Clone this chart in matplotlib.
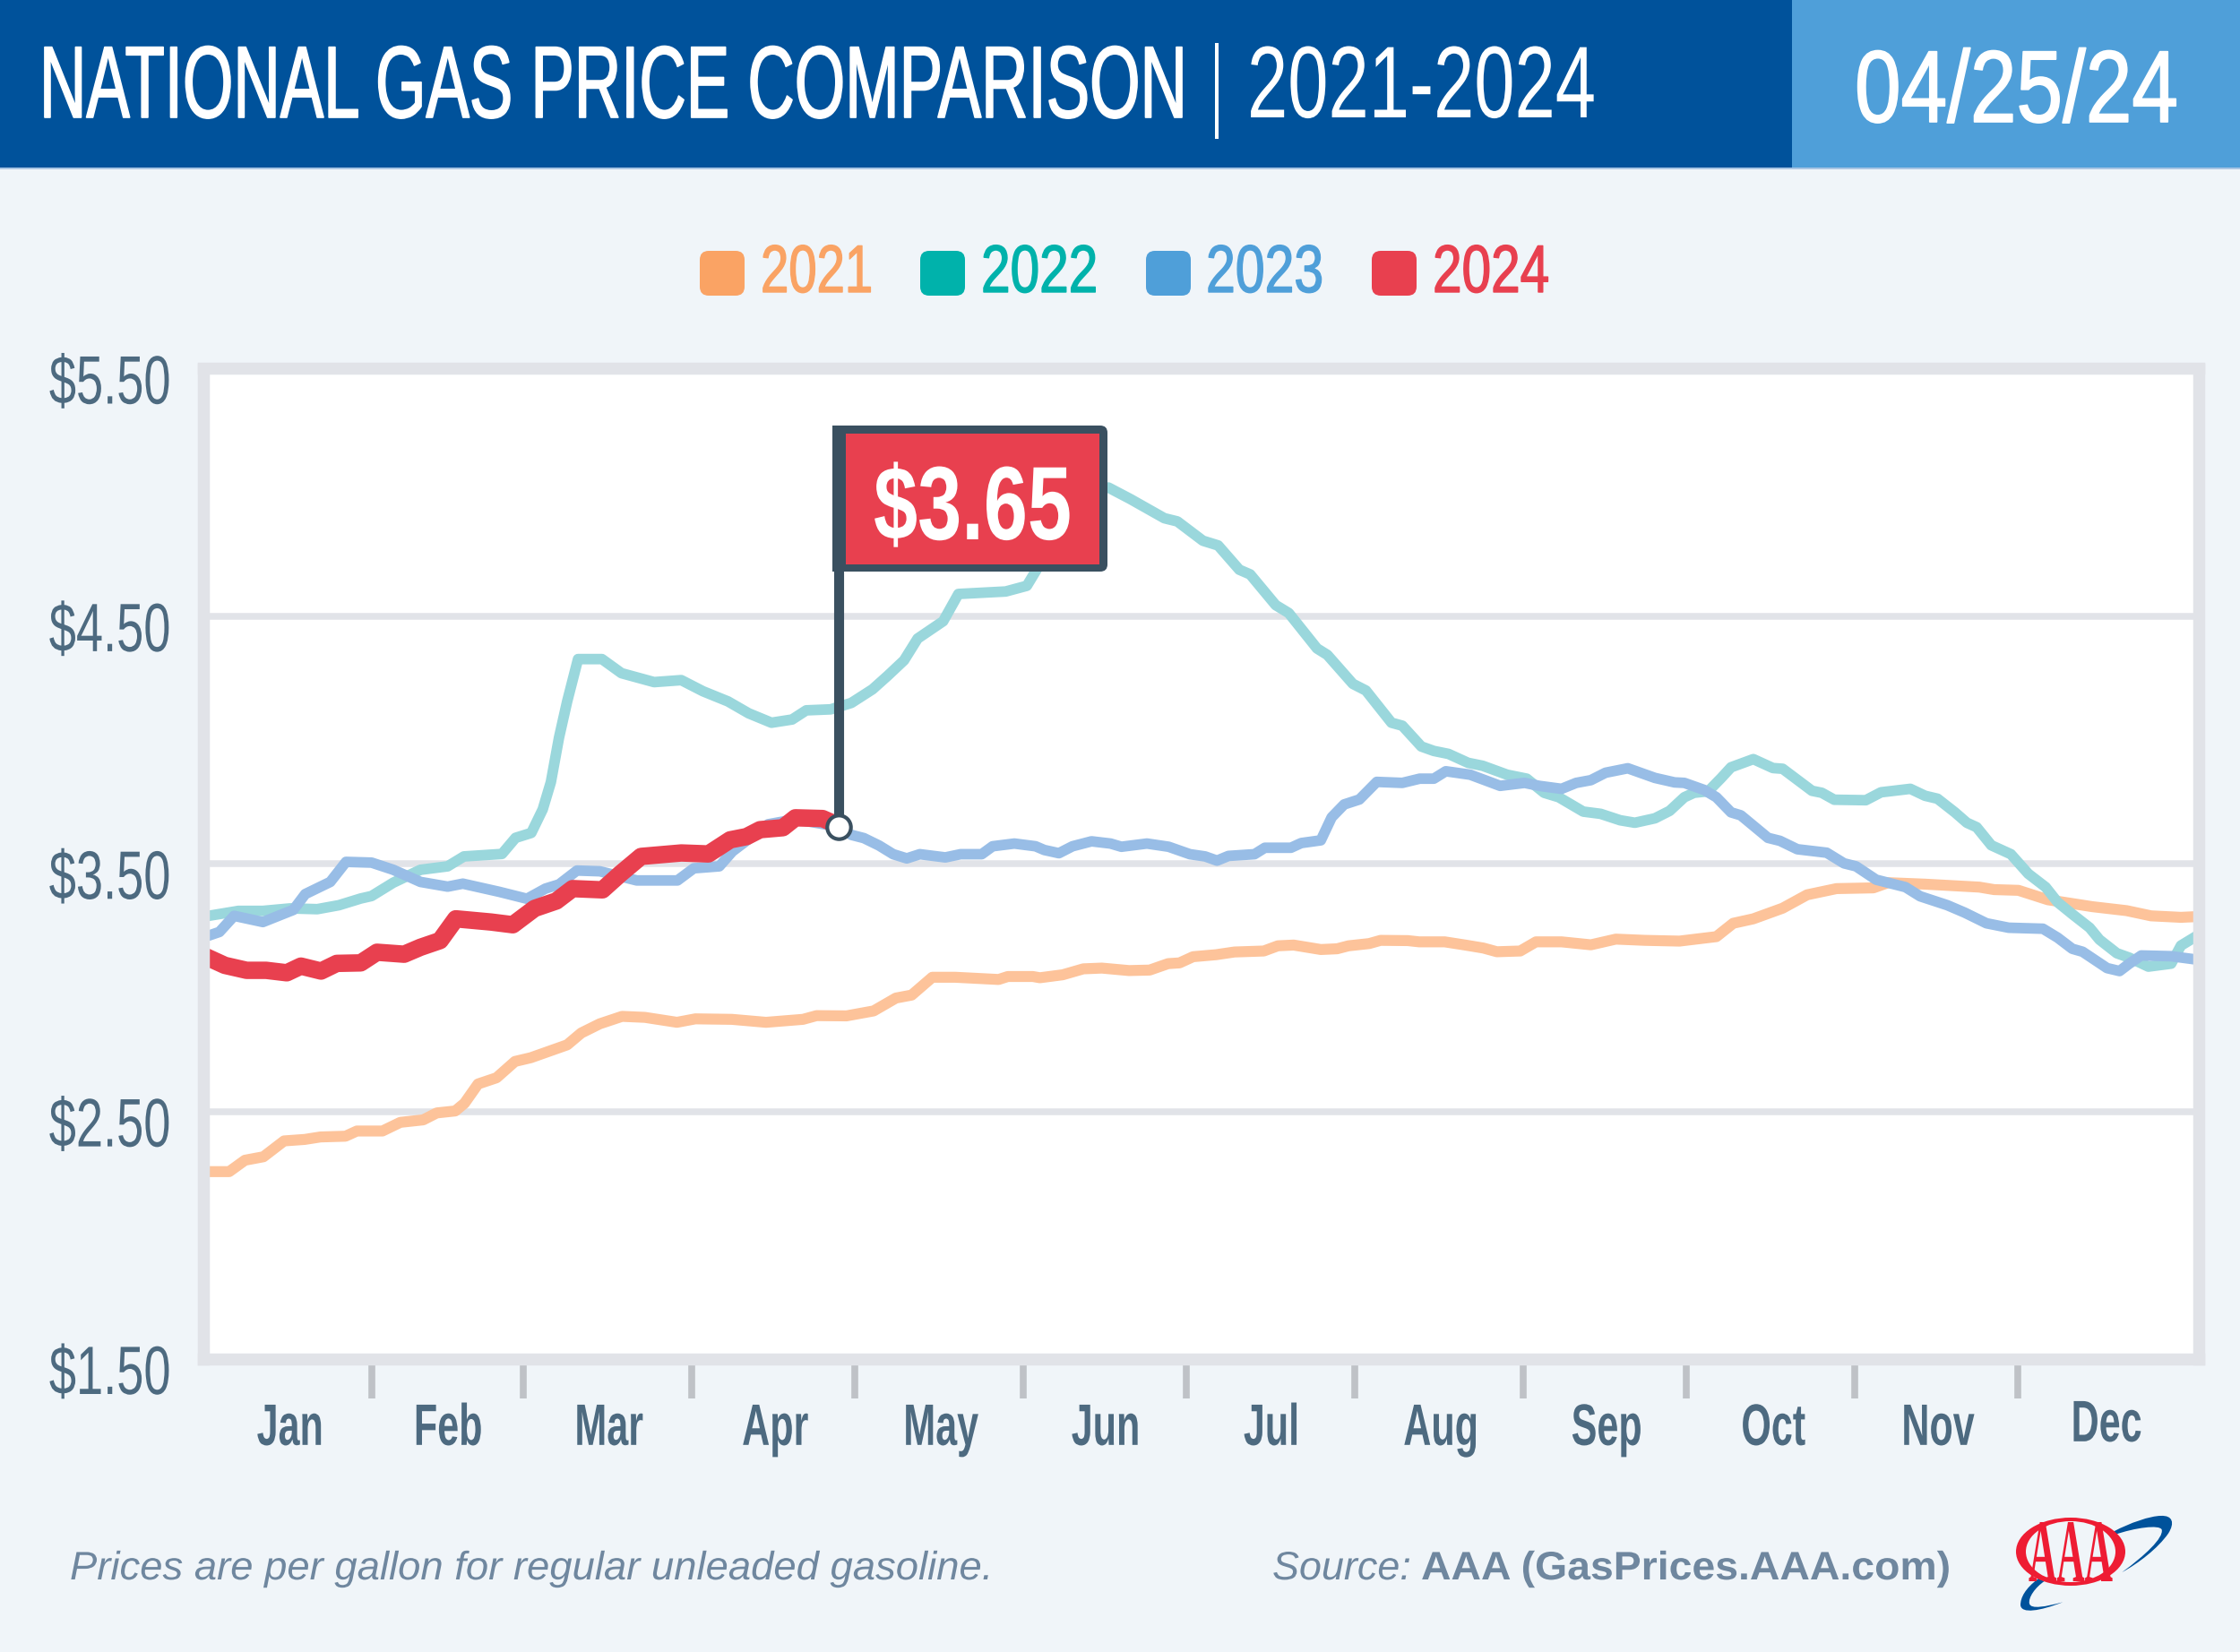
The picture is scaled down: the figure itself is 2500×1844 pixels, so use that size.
#!/usr/bin/env python3
"""National gas price comparison, 2021-2024, one line per year."""

import matplotlib
matplotlib.use("Agg")
import matplotlib.pyplot as plt
from matplotlib.patches import Ellipse, FancyBboxPatch, PathPatch, Rectangle
from matplotlib.path import Path
from matplotlib.patheffects import AbstractPathEffect
from matplotlib.transforms import Affine2D, ScaledTranslation

W, H = 2500, 1844

# ---------------------------------------------------------------------------
# Data (day of the year, dollars per gallon)
# ---------------------------------------------------------------------------
days_2021 = [0, 3.8, 6.7, 10.1, 13.9, 17.7, 20.6, 25.2, 27.3, 32, 35.3, 39.5, 42, 45.4, 47.1, 49.6,
             53, 56.4, 59.3, 66, 68.6, 72, 76.1, 80.3, 86.2, 89.6, 96.3, 102.6, 109.4, 111.9, 117.4,
             122.4, 126.5, 129.4, 133.2, 137.4, 145.4, 147.1, 151.7, 153, 157.2, 161, 164.4, 169.4,
             173.2, 176.6, 178.7, 181.2, 185.4, 188.8, 194.2, 196.8, 199.7, 204.7, 207.7, 209.8,
             213.6, 215.7, 220.7, 222.8, 227.5, 231.3, 234.6, 237.1, 241.4, 244.3, 249, 254.4, 259,
             264.4, 270.7, 277.5, 280.6, 284.3, 289.7, 294.2, 299.6, 306.4, 309.1, 315.9, 325.9,
             328.6, 333.1, 338.5, 346.7, 353, 357.5, 363, 366]
prices_2021 = [2.257, 2.257, 2.303, 2.317, 2.381, 2.387, 2.397, 2.40, 2.421, 2.421, 2.456, 2.466,
               2.494, 2.502, 2.533, 2.611, 2.636, 2.702, 2.717, 2.769, 2.817, 2.854, 2.884, 2.88,
               2.86, 2.874, 2.872, 2.86, 2.872, 2.887, 2.886, 2.906, 2.958, 2.97, 3.042, 3.042,
               3.033, 3.045, 3.045, 3.04, 3.052, 3.076, 3.079, 3.069, 3.071, 3.097, 3.10, 3.125,
               3.133, 3.144, 3.148, 3.169, 3.172, 3.154, 3.157, 3.169, 3.178, 3.191, 3.19, 3.185,
               3.185, 3.172, 3.16, 3.145, 3.148, 3.185, 3.185, 3.173, 3.196, 3.191, 3.188, 3.206,
               3.26, 3.278, 3.321, 3.375, 3.40, 3.403, 3.424, 3.418, 3.406, 3.396, 3.393, 3.355,
               3.327, 3.311, 3.29, 3.284, 3.287]

days_2022 = [0, 5.5, 10, 15, 20, 24, 28, 30, 34, 39, 44, 47, 54, 56.5, 59.4, 61.5, 63, 64.5, 66, 68,
             72.4, 76, 82, 87, 91, 95.6, 99.4, 103.6, 107.4, 110, 114.5, 118.3, 122.2, 125, 128,
             130.5, 135.2, 138, 146.7, 150.6, 153, 156, 160, 165.6, 169.6, 175.9, 178.3, 183, 185.8,
             189.7, 191.7, 196.4, 198.8, 204, 205.9, 210.6, 213, 217.7, 219.7, 223.2, 225.5, 228.2,
             231.8, 234.5, 239, 242.6, 245.8, 248.5, 253, 256.2, 259.8, 262.5, 266.2, 268.9, 271.6,
             273.4, 276, 278.4, 280.2, 284.3, 287.9, 289.7, 295.1, 296.9, 299.2, 305, 307.8, 313.2,
             315.9, 318.2, 321.4, 323.6, 325.4, 328.1, 331.7, 334.9, 338.1, 340.3, 343, 346.2, 348,
             351.2, 353.5, 357, 361.2, 363, 366]
prices_2022 = [3.29, 3.31, 3.31, 3.32, 3.317, 3.333, 3.36, 3.37, 3.424, 3.476, 3.49, 3.53, 3.54,
               3.605, 3.625, 3.72, 3.83, 4.01, 4.156, 4.327, 4.327, 4.27, 4.234, 4.242, 4.197,
               4.156, 4.108, 4.07, 4.083, 4.12, 4.124, 4.15, 4.205, 4.26, 4.322, 4.41, 4.48, 4.59,
               4.60, 4.623, 4.71, 4.85, 4.99, 5.02, 4.974, 4.896, 4.883, 4.805, 4.786, 4.688, 4.669,
               4.545, 4.513, 4.37, 4.344, 4.227, 4.20, 4.07, 4.058, 3.974, 3.956, 3.944, 3.908,
               3.896, 3.86, 3.844, 3.787, 3.769, 3.711, 3.702, 3.676, 3.666, 3.684, 3.714, 3.769,
               3.787, 3.793, 3.847, 3.89, 3.923, 3.887, 3.884, 3.795, 3.787, 3.759, 3.757, 3.789,
               3.803, 3.775, 3.763, 3.708, 3.666, 3.648, 3.575, 3.539, 3.46, 3.406, 3.345, 3.297,
               3.242, 3.194, 3.139, 3.121, 3.085, 3.097, 3.17, 3.21]

days_2023 = [0, 2, 4.7, 10, 14, 15.6, 17.8, 22.4, 25.3, 30, 34, 39, 44, 46.8, 53.5, 58.6, 62, 64.5,
             67.8, 72, 78.8, 86.3, 89.3, 94, 96.4, 103, 108, 116, 118.3, 120.6, 123.4, 126, 128.5,
             130.9, 135.6, 138.4, 142.3, 144.3, 148.3, 152.2, 153.8, 156.5, 159, 162.5, 166, 168,
             172.7, 176.7, 180.6, 183.4, 185.6, 187.7, 192.5, 194.4, 199.2, 201.1, 204.7, 206.7,
             209, 211.8, 215, 219.7, 222.9, 225.5, 227.7, 232.2, 237.7, 242.2, 244.9, 249, 251.7,
             254.4, 257.1, 261.2, 266.2, 269.8, 271.6, 275.2, 277.5, 280.2, 282, 287, 289.2, 292.4,
             297.8, 301, 303.2, 306.9, 312.3, 315, 320, 323.2, 327.2, 331.3, 337.6, 340.3, 343,
             344.9, 349.4, 351.7, 353.5, 355.7, 361.2, 366]
prices_2023 = [3.21, 3.225, 3.29, 3.265, 3.30, 3.314, 3.378, 3.427, 3.508, 3.505, 3.476, 3.427,
               3.408, 3.42, 3.387, 3.359, 3.40, 3.417, 3.473, 3.47, 3.433, 3.433, 3.482, 3.49, 3.55,
               3.66, 3.68, 3.65, 3.617, 3.604, 3.574, 3.539, 3.522, 3.539, 3.526, 3.539, 3.539,
               3.571, 3.582, 3.571, 3.556, 3.543, 3.571, 3.591, 3.582, 3.569, 3.582, 3.569, 3.539,
               3.53, 3.513, 3.532, 3.539, 3.565, 3.565, 3.584, 3.595, 3.688, 3.74, 3.76, 3.831,
               3.827, 3.844, 3.844, 3.874, 3.86, 3.815, 3.827, 3.815, 3.803, 3.827, 3.838, 3.868,
               3.886, 3.847, 3.829, 3.827, 3.799, 3.769, 3.708, 3.696, 3.605, 3.593, 3.559, 3.545,
               3.502, 3.49, 3.436, 3.406, 3.369, 3.333, 3.303, 3.26, 3.242, 3.238, 3.202, 3.157,
               3.145, 3.079, 3.067, 3.097, 3.13, 3.127, 3.113]

days_2024 = [0, 3, 7, 10.6, 14.4, 17, 20.7, 23.6, 28, 31, 36, 39, 42.6, 45.5, 52, 56, 60, 64, 67,
             72.5, 75.8, 79.6, 87, 92, 96, 99, 101.5, 105.7, 108, 113, 116]
prices_2024 = [3.12, 3.09, 3.07, 3.07, 3.06, 3.087, 3.067, 3.098, 3.10, 3.143, 3.135, 3.163, 3.19,
               3.278, 3.265, 3.254, 3.32, 3.35, 3.40, 3.395, 3.46, 3.53, 3.544, 3.54, 3.597, 3.61,
               3.638, 3.646, 3.686, 3.683, 3.654]

flag_day = 116
flag_price = 3.65
flag_label = "$3.65"

price_ticks = [1.5, 2.5, 3.5, 4.5, 5.5]
price_labels = ["$1.50", "$2.50", "$3.50", "$4.50", "$5.50"]
month_edges = [30, 58, 89, 119, 150, 180, 211, 242, 272, 303, 333]
month_centers = [15, 44.1, 73.7, 104.3, 134.8, 165.1, 195.6, 226.8, 257.3, 288, 318.3, 349.3]
month_labels = ["Jan", "Feb", "Mar", "Apr", "May", "Jun", "Jul", "Aug", "Sep", "Oct", "Nov", "Dec"]
legend_labels = ["2021", "2022", "2023", "2024"]

PALETTE = {
    "bg": "#F0F5F9",
    "navy": "#00529B",
    "sky": "#4F9FD9",
    "frame": "#E1E3E8",
    "tick": "#BFC2C7",
    "axis_text": "#4D6A80",
    "foot": "#6F879F",
    "flag": "#3A5060",
    "line_2021": "#FDC39A",
    "line_2022": "#9AD7DC",
    "line_2023": "#98BDE6",
    "line_2024": "#E8404F",
    "key_2021": "#FAA364",
    "key_2022": "#00B2AB",
    "key_2023": "#4F9FD9",
    "key_2024": "#E8404F",
    "logo_red": "#EE1C33",
}


class Tall(AbstractPathEffect):
    """Stretch a text upward from its baseline; the fonts at hand are wider than the original."""

    def __init__(self, sy, stroke=0.0):
        super().__init__()
        self.sy = sy
        self.stroke = stroke

    def draw_path(self, renderer, gc, tpath, affine, rgbFace=None):
        gc0 = renderer.new_gc()
        gc0.copy_properties(gc)
        if self.stroke:
            gc0.set_linewidth(self.stroke)
            gc0.set_foreground(rgbFace)
        renderer.draw_path(gc0, tpath, Affine2D().scale(1, self.sy) + affine, rgbFace)
        gc0.restore()


def main() -> None:
    fig = plt.figure(figsize=(W / 100, H / 100), dpi=100, facecolor=PALETTE["bg"])
    renderer = fig.canvas.get_renderer()
    px = Affine2D().scale(1, -1).translate(0, H)  # picture pixels, origin top left

    def fit_text(x, y, s, width, size, color, stroke=0.0, **font):
        # size sets the height of the ink, width its length
        t = fig.text(x, y, s, transform=px, fontsize=size, color=color, ha="left", va="baseline", zorder=6, **font)
        sx = width / t.get_window_extent(renderer).width
        t.set_fontsize(size * sx)
        t.set_path_effects([Tall(1 / sx, stroke)])
        return t

    # header band
    fig.add_artist(Rectangle((0, 0), 2000, 187, transform=px, color=PALETTE["navy"], lw=0))
    fig.add_artist(Rectangle((2000, 0), 500, 187, transform=px, color=PALETTE["sky"], lw=0))
    fig.add_artist(Rectangle((0, 187), W, 2, transform=px, color="#A9C6E4", lw=0))
    fit_text(44, 131, "NATIONAL GAS PRICE COMPARISON", 1281, 82, "white", stroke=1.2, family="Liberation Sans")
    fit_text(1352, 131, "|", 12, 82, "white", family="Liberation Sans")
    fit_text(1392, 131, "2021-2024", 389, 82, "white", family="Liberation Sans")
    fit_text(2070, 136, "04/25/24", 361, 82, "white", stroke=1.2, family="Liberation Sans")

    # legend
    key_x = [781, 1027, 1279, 1531]
    label_x = [849, 1095, 1346, 1599]
    label_w = [125, 130, 131, 130]
    for i, text in enumerate(legend_labels):
        color = PALETTE[f"key_{text}"]
        fig.add_artist(FancyBboxPatch((key_x[i] + 8, 288), 34, 34, boxstyle="round,pad=8,rounding_size=10",
                                      transform=px, color=color, lw=0))
        fit_text(label_x[i], 326, text, label_w[i], 54, color, stroke=1.0, family="Liberation Sans")

    # plot area; the axes edges run through the middle of the frame
    ax = fig.add_axes([226.7 / W, 1 - 1517 / H, (2453.5 - 226.7) / W, (1517 - 411.5) / H], facecolor="white")
    ax.set_xlim(-1.0, 366.2)
    ax.set_ylim(1.5, 5.5)
    ax.set_axisbelow(True)
    for s in ax.spines.values():
        s.set_color(PALETTE["frame"])
        s.set_linewidth(9.7)
    ax.yaxis.grid(True, color=PALETTE["frame"], linewidth=5.4)

    ax.plot(days_2021, prices_2021, color=PALETTE["line_2021"], lw=8.8, solid_joinstyle="round")
    ax.plot(days_2022, prices_2022, color=PALETTE["line_2022"], lw=8.5, solid_joinstyle="round")
    ax.plot(days_2023, prices_2023, color=PALETTE["line_2023"], lw=8.5, solid_joinstyle="round")
    ax.plot(days_2024, prices_2024, color=PALETTE["line_2024"], lw=14.0, solid_joinstyle="round")

    # y axis
    y_squeeze = 0.71
    ax.set_yticks(price_ticks, labels=price_labels)
    ax.tick_params(axis="y", length=0, pad=26, labelsize=55 * y_squeeze, labelcolor=PALETTE["axis_text"])
    drop = ScaledTranslation(0, -39 / 100, fig.dpi_scale_trans)
    for lbl in ax.get_yticklabels():
        lbl.set_family("Liberation Sans")
        lbl.set_verticalalignment("baseline")
        lbl.set_transform(lbl.get_transform() + drop)
        lbl.set_path_effects([Tall(1 / y_squeeze)])

    # x axis: month edges as ticks, names between them
    x_squeeze = 0.66
    ax.set_xticks(month_edges, labels=[""] * len(month_edges))
    ax.set_xticks(month_centers, labels=month_labels, minor=True)
    ax.tick_params(axis="x", which="major", length=32, width=5.5, color=PALETTE["tick"])
    ax.tick_params(axis="x", which="minor", length=0, pad=69, labelsize=47 * x_squeeze, labelcolor=PALETTE["axis_text"])
    for lbl in ax.get_xticklabels(minor=True):
        lbl.set_family("Liberation Sans")
        lbl.set_weight("bold")
        lbl.set_verticalalignment("baseline")
        lbl.set_path_effects([Tall(1 / x_squeeze)])
    dec = ax.get_xticklabels(minor=True)[-1]  # sits a little higher in the original
    dec.set_transform(dec.get_transform() + ScaledTranslation(0, 4 / 100, fig.dpi_scale_trans))

    # flag on the latest price
    ax.plot([flag_day, flag_day], [flag_price, 4.8], color=PALETTE["flag"], lw=8, zorder=5, solid_capstyle="butt")
    ax.plot([flag_day], [flag_price], "o", ms=19, mfc="white", mec=PALETTE["flag"], mew=3, zorder=6)
    ax.add_patch(FancyBboxPatch((935, 481), 295, 151, boxstyle="round,pad=6,rounding_size=8", transform=px,
                                color=PALETTE["flag"], lw=0, zorder=7, clip_on=False))
    ax.add_patch(Rectangle((929, 475), 15, 163, transform=px, color=PALETTE["flag"], lw=0, zorder=7, clip_on=False))
    ax.add_patch(Rectangle((944, 484), 283, 146, transform=px, color=PALETTE["line_2024"], lw=0, zorder=8, clip_on=False))
    fit_text(975, 602, flag_label, 221, 84, "white", family="Liberation Sans", weight="bold").set_zorder(9)

    # footer
    fit_text(78, 1763, "Prices are per gallon for regular unleaded gasoline.", 1032, 32, PALETTE["foot"],
             family="Liberation Sans", style="italic")
    fit_text(1420, 1763, "Source:", 155, 32, PALETTE["foot"], family="Liberation Sans", style="italic")
    fit_text(1586, 1763, "AAA (GasPrices.AAA.com)", 592, 32, PALETTE["foot"], family="Liberation Sans", weight="bold")

    # logo
    def logo(x, y):
        return (2100 + x / 3, 1650 + y / 3)

    swoosh_top = [(778, 178), (830, 150), (900, 126), (935, 126), (975, 124), (982, 150), (960, 185),
                  (925, 235), (860, 285), (805, 315), (880, 260), (945, 200), (938, 172), (930, 155),
                  (850, 165), (778, 190)]
    swoosh_low = [(525, 336), (480, 370), (465, 400), (465, 425), (468, 455), (530, 445), (607, 415),
                  (550, 430), (500, 440), (495, 420), (490, 400), (515, 365), (545, 345)]
    for pts in (swoosh_top, swoosh_low):
        codes = [Path.MOVETO] + [Path.CURVE4] * (len(pts) - 1) + [Path.CLOSEPOLY]
        verts = [logo(*p) for p in pts + pts[:1]]
        fig.add_artist(PathPatch(Path(verts, codes), transform=px, color=PALETTE["navy"], lw=0))

    fig.add_artist(Ellipse((2311, 1732), 122, 76, transform=px, color=PALETTE["logo_red"], lw=0))
    fig.add_artist(Ellipse((2311, 1732), 100, 68, transform=px, color=PALETTE["bg"], lw=0))
    fit_text(2264, 1765, "AAA", 94, 72, PALETTE["logo_red"], family="Liberation Serif", weight="bold")

    fig.savefig("out.png", dpi=100, facecolor=fig.get_facecolor())


if __name__ == "__main__":
    main()
